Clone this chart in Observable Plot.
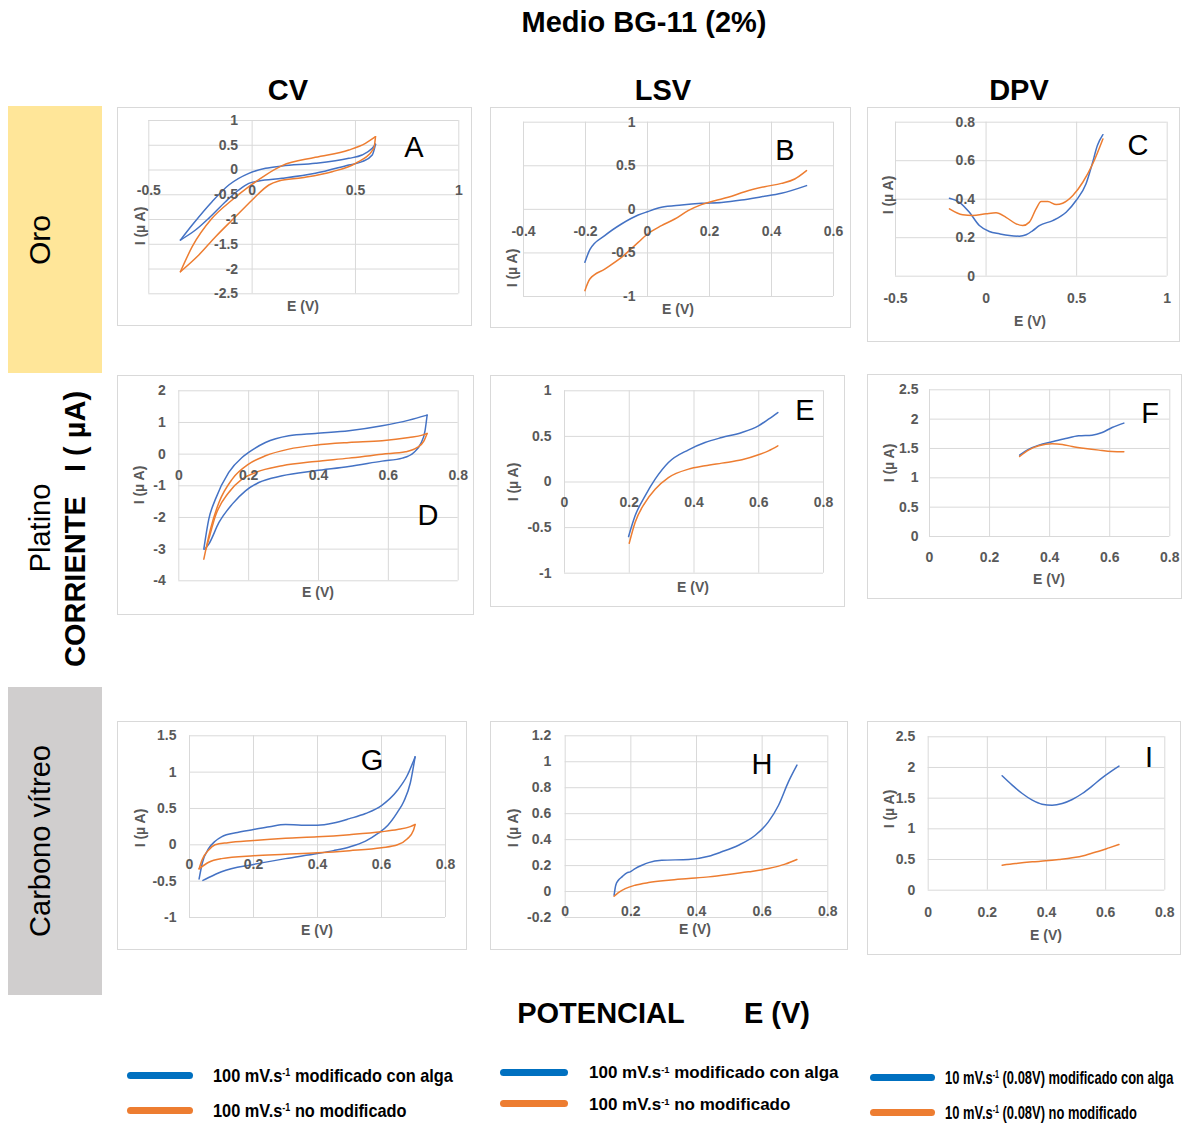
<!DOCTYPE html>
<html><head><meta charset="utf-8">
<script src="https://cdn.jsdelivr.net/npm/d3@7"></script>
<script src="https://cdn.jsdelivr.net/npm/@observablehq/plot@0.6"></script>
<style>
body{margin:0;background:#fff;}
#page{position:relative;width:1191px;height:1126px;font-family:"Liberation Sans",Arial,sans-serif;overflow:hidden;background:#fff;}
.t{position:absolute;transform:translate(-50%,-50%);white-space:nowrap;line-height:1;}
.r{position:absolute;transform:translate(-50%,-50%) rotate(-90deg);white-space:nowrap;line-height:1;}
.frame{position:absolute;border:1px solid #d9d9d9;box-sizing:border-box;}
.svgwrap{position:absolute;}
.hdr{font-weight:bold;font-size:29px;color:#000;}
.ax{font-weight:bold;font-size:14px;color:#595959;}
.let{font-size:29px;color:#000;}
.box{position:absolute;}
.lg{position:absolute;white-space:nowrap;line-height:1;transform-origin:left center;color:#000;}
.lg sup{font-size:0.55em;vertical-align:0.55em;}
.sw{position:absolute;height:7px;border-radius:4px;}
</style>
</head><body><div id="page"></div>
<script>
// ---------------- DATA ----------------
const A_xTicks=[-0.5,0,0.5,1];
const A_yTicks=[-2.5,-2,-1.5,-1,-0.5,0,0.5,1];
const A_blueUp=[[-0.347,-1.414],[-0.29,-1.111],[-0.194,-0.64],[-0.113,-0.303],[-0.016,-0.067],[0.065,0.034],[0.145,0.081],[0.306,0.135],[0.468,0.236],[0.532,0.303],[0.581,0.438],[0.597,0.519]];
const A_blueDown=[[0.597,0.519],[0.581,0.303],[0.532,0.168],[0.468,0.101],[0.306,-0.067],[0.145,-0.168],[0.032,-0.222],[-0.016,-0.269],[-0.065,-0.404],[-0.129,-0.64],[-0.21,-0.976],[-0.274,-1.212],[-0.347,-1.414]];
const A_orangeUp=[[-0.347,-2.054],[-0.29,-1.549],[-0.194,-0.976],[-0.097,-0.606],[-0.016,-0.337],[0.065,-0.101],[0.145,0.088],[0.306,0.256],[0.468,0.404],[0.548,0.539],[0.597,0.673]];
const A_orangeDown=[[0.597,0.673],[0.589,0.438],[0.5,0.135],[0.387,-0.034],[0.242,-0.155],[0.129,-0.222],[0.081,-0.303],[0.016,-0.539],[-0.016,-0.673],[-0.097,-1.01],[-0.177,-1.347],[-0.258,-1.717],[-0.347,-2.054]];

const B_xTicks=[-0.4,-0.2,0,0.2,0.4,0.6];
const B_yTicks=[-1,-0.5,0,0.5,1];
const B_blue=[[-0.202,-0.608],[-0.186,-0.463],[-0.138,-0.302],[-0.084,-0.168],[-0.03,-0.065],[0,-0.027],[0.045,0.023],[0.11,0.05],[0.174,0.069],[0.239,0.08],[0.303,0.107],[0.368,0.145],[0.432,0.184],[0.513,0.272]];
const B_orange=[[-0.202,-0.933],[-0.186,-0.799],[-0.138,-0.685],[-0.084,-0.551],[-0.03,-0.379],[0,-0.283],[0.045,-0.187],[0.088,-0.111],[0.131,-0.015],[0.174,0.054],[0.217,0.099],[0.26,0.138],[0.314,0.203],[0.378,0.26],[0.432,0.298],[0.475,0.348],[0.513,0.444]];

const C_xTicks=[-0.5,0,0.5,1];
const C_yTicks=[0,0.2,0.4,0.6,0.8];
const C_blue=[[-0.202,0.405],[-0.147,0.384],[-0.092,0.332],[-0.037,0.263],[0.018,0.232],[0.074,0.22],[0.129,0.211],[0.184,0.208],[0.221,0.215],[0.258,0.237],[0.294,0.263],[0.368,0.289],[0.442,0.332],[0.497,0.393],[0.552,0.48],[0.585,0.58],[0.615,0.68],[0.645,0.735]];
const C_orange=[[-0.202,0.35],[-0.129,0.319],[-0.074,0.315],[0,0.324],[0.055,0.329],[0.11,0.306],[0.166,0.272],[0.202,0.263],[0.239,0.281],[0.276,0.35],[0.304,0.388],[0.341,0.388],[0.387,0.372],[0.423,0.379],[0.479,0.419],[0.534,0.488],[0.589,0.584],[0.645,0.713]];

const D_xTicks=[0,0.2,0.4,0.6,0.8];
const D_yTicks=[-4,-3,-2,-1,0,1,2];
const D_blueUp=[[0.0716,-3.0],[0.0859,-2.053],[0.105,-1.421],[0.143,-0.579],[0.181,-0.105],[0.2,0.053],[0.248,0.368],[0.315,0.579],[0.391,0.653],[0.487,0.737],[0.582,0.895],[0.659,1.074],[0.711,1.232]];
const D_blueDown=[[0.711,1.232],[0.705,0.737],[0.692,0.316],[0.673,0.053],[0.64,-0.126],[0.582,-0.221],[0.487,-0.389],[0.391,-0.526],[0.296,-0.684],[0.229,-0.895],[0.191,-1.158],[0.153,-1.579],[0.115,-2.158],[0.0859,-2.842],[0.0745,-3.0]];
const D_orangeUp=[[0.0716,-3.316],[0.0907,-2.368],[0.115,-1.526],[0.153,-0.789],[0.2,-0.316],[0.248,-0.053],[0.315,0.158],[0.391,0.284],[0.487,0.368],[0.582,0.421],[0.659,0.526],[0.697,0.6],[0.711,0.653]];
const D_orangeDown=[[0.711,0.653],[0.702,0.421],[0.683,0.211],[0.649,0.074],[0.582,0.0],[0.487,-0.126],[0.391,-0.232],[0.296,-0.368],[0.22,-0.579],[0.181,-0.789],[0.143,-1.211],[0.105,-1.947],[0.0859,-2.684],[0.078,-3.0]];

const E_xTicks=[0,0.2,0.4,0.6,0.8];
const E_yTicks=[-1,-0.5,0,0.5,1];
const E_blue=[[0.198,-0.598],[0.218,-0.371],[0.249,-0.152],[0.28,0.031],[0.321,0.214],[0.383,0.353],[0.434,0.433],[0.486,0.488],[0.548,0.543],[0.599,0.616],[0.63,0.689],[0.659,0.762]];
const E_orange=[[0.2,-0.671],[0.218,-0.444],[0.249,-0.225],[0.28,-0.079],[0.321,0.049],[0.383,0.141],[0.434,0.177],[0.486,0.207],[0.548,0.243],[0.599,0.298],[0.63,0.342],[0.659,0.397]];

const F_xTicks=[0,0.2,0.4,0.6,0.8];
const F_yTicks=[0,0.5,1,1.5,2,2.5];
const F_blue=[[0.3,1.386],[0.331,1.489],[0.364,1.557],[0.408,1.614],[0.453,1.67],[0.497,1.716],[0.541,1.727],[0.575,1.773],[0.608,1.858],[0.647,1.932]];
const F_orange=[[0.3,1.364],[0.331,1.477],[0.364,1.545],[0.408,1.58],[0.442,1.568],[0.475,1.534],[0.519,1.5],[0.564,1.472],[0.608,1.449],[0.647,1.443]];

const G_xTicks=[0,0.2,0.4,0.6,0.8];
const G_yTicks=[-1,-0.5,0,0.5,1,1.5];
const G_blueUp=[[0.03,-0.47],[0.04,-0.25],[0.06,-0.05],[0.08,0.05],[0.1,0.11],[0.15,0.17],[0.2,0.21],[0.25,0.25],[0.3,0.28],[0.35,0.27],[0.4,0.27],[0.45,0.3],[0.5,0.36],[0.55,0.43],[0.6,0.54],[0.65,0.75],[0.68,0.95],[0.705,1.21]];
const G_blueDown=[[0.705,1.21],[0.69,0.85],[0.67,0.6],[0.65,0.45],[0.62,0.27],[0.59,0.16],[0.55,0.05],[0.5,-0.03],[0.45,-0.08],[0.4,-0.12],[0.3,-0.19],[0.2,-0.27],[0.1,-0.37],[0.06,-0.45],[0.042,-0.49]];
const G_orangeUp=[[0.03,-0.33],[0.04,-0.2],[0.06,-0.07],[0.08,0.0],[0.12,0.03],[0.2,0.06],[0.3,0.09],[0.4,0.11],[0.5,0.14],[0.6,0.18],[0.65,0.21],[0.69,0.25],[0.705,0.28]];
const G_orangeDown=[[0.705,0.28],[0.7,0.2],[0.68,0.08],[0.65,0.0],[0.6,-0.04],[0.5,-0.08],[0.4,-0.11],[0.3,-0.13],[0.2,-0.15],[0.1,-0.19],[0.06,-0.24],[0.03,-0.33]];

const H_xTicks=[0,0.2,0.4,0.6,0.8];
const H_yTicks=[-0.2,0,0.2,0.4,0.6,0.8,1,1.2];
const H_blue=[[0.149,-0.028],[0.154,0.049],[0.162,0.087],[0.173,0.113],[0.188,0.144],[0.198,0.152],[0.213,0.177],[0.234,0.203],[0.254,0.223],[0.294,0.241],[0.376,0.247],[0.437,0.272],[0.477,0.306],[0.528,0.357],[0.579,0.434],[0.619,0.537],[0.65,0.665],[0.68,0.845],[0.706,0.974]];
const H_orange=[[0.149,-0.036],[0.162,-0.008],[0.183,0.023],[0.213,0.049],[0.254,0.069],[0.315,0.087],[0.376,0.1],[0.437,0.113],[0.497,0.131],[0.558,0.152],[0.619,0.177],[0.67,0.211],[0.706,0.247]];

const I_xTicks=[0,0.2,0.4,0.6,0.8];
const I_yTicks=[0,0.5,1,1.5,2,2.5];
const I_blue=[[0.25,1.864],[0.284,1.712],[0.318,1.576],[0.352,1.467],[0.385,1.402],[0.419,1.386],[0.453,1.413],[0.487,1.478],[0.521,1.576],[0.554,1.696],[0.588,1.832],[0.616,1.929],[0.645,2.022]];
const I_orange=[[0.25,0.408],[0.295,0.435],[0.352,0.462],[0.397,0.478],[0.442,0.5],[0.487,0.527],[0.532,0.571],[0.577,0.636],[0.611,0.69],[0.645,0.745]];

const legend1=["100 mV.s","-1"," modificado con alga","100 mV.s","-1"," no modificado"];
const legend3=["10 mV.s","-1"," (0.08V) modificado con alga","10 mV.s","-1"," (0.08V) no modificado"];

// ---------------- LAYOUT ----------------
const BLUE="#4472C4", ORANGE="#ED7D31";
const page=document.getElementById("page");
function txt(cls,html,x,y,extra){const d=document.createElement("div");d.className=cls;d.innerHTML=html;d.style.left=x+"px";d.style.top=y+"px";if(extra)Object.assign(d.style,extra);page.appendChild(d);return d;}
function box(x0,y0,x1,y1,color){const d=document.createElement("div");d.className="box";Object.assign(d.style,{left:x0+"px",top:y0+"px",width:(x1-x0)+"px",height:(y1-y0)+"px",background:color});page.appendChild(d);}

const panels=[
 {L:"A",frame:[117,107,472,326],area:[148.3,458.3,120,293.3],xd:[-0.5,1],yd:[-2.5,1],xt:A_xTicks,yt:A_yTicks,xAt:0,yAt:0,xDy:21,yDx:14,
  s:[[A_blueUp,BLUE],[A_blueDown,BLUE],[A_orangeUp,ORANGE],[A_orangeDown,ORANGE]],e:[303,306],i:[140,226],l:[414,147]},
 {L:"B",frame:[490,107,851,328],area:[523,833,121.7,296],xd:[-0.4,0.6],yd:[-1,1],xt:B_xTicks,yt:B_yTicks,xAt:0,yAt:0,xDy:22,yDx:12,
  s:[[B_blue,BLUE],[B_orange,ORANGE]],e:[678,309],i:[512,268],l:[785,150]},
 {L:"C",frame:[867,107,1180,342],area:[895,1166.7,121.7,275.7],xd:[-0.5,1],yd:[0,0.8],xt:C_xTicks,yt:C_yTicks,xAt:0,yAt:0,xDy:22,yDx:11,
  s:[[C_blue,BLUE],[C_orange,ORANGE]],e:[1030,321],i:[888,195],l:[1138,145]},
 {L:"D",frame:[117,375,474,615],area:[178.3,457.7,390.3,580.3],xd:[0,0.8],yd:[-4,2],xt:D_xTicks,yt:D_yTicks,xAt:0,yAt:0,xDy:21,yDx:13,
  s:[[D_blueUp,BLUE],[D_blueDown,BLUE],[D_orangeUp,ORANGE],[D_orangeDown,ORANGE]],e:[318,592],i:[139,485],l:[428,515]},
 {L:"E",frame:[490,375,845,607],area:[564,823,390.3,572.7],xd:[0,0.8],yd:[-1,1],xt:E_xTicks,yt:E_yTicks,xAt:0,yAt:0,xDy:21,yDx:13,
  s:[[E_blue,BLUE],[E_orange,ORANGE]],e:[693,587],i:[513,482],l:[805,410]},
 {L:"F",frame:[867,374,1182,599],area:[929,1169.3,389.3,536],xd:[0,0.8],yd:[0,2.5],xt:F_xTicks,yt:F_yTicks,xAt:0,yAt:0,xDy:21,yDx:11,
  s:[[F_blue,BLUE],[F_orange,ORANGE]],e:[1049,579],i:[889,463],l:[1150,413]},
 {L:"G",frame:[117,721,467,950],area:[189,445,735.3,917],xd:[0,0.8],yd:[-1,1.5],xt:G_xTicks,yt:G_yTicks,xAt:0,yAt:0,xDy:20,yDx:13,
  s:[[G_blueUp,BLUE],[G_blueDown,BLUE],[G_orangeUp,ORANGE],[G_orangeDown,ORANGE]],e:[317,930],i:[140,828],l:[372,760]},
 {L:"H",frame:[490,721,848,950],area:[564.7,827.3,735.3,917],xd:[0,0.8],yd:[-0.2,1.2],xt:H_xTicks,yt:H_yTicks,xAt:0,yAt:0,xDy:20,yDx:14,
  s:[[H_blue,BLUE],[H_orange,ORANGE]],e:[695,929],i:[513,828],l:[762,764]},
 {L:"I",frame:[867,721,1181,955],area:[927.7,1164.3,736.3,889.7],xd:[0,0.8],yd:[0,2.5],xt:I_xTicks,yt:I_yTicks,xAt:0,yAt:0,xDy:22,yDx:13,
  s:[[I_blue,BLUE],[I_orange,ORANGE]],e:[1046,935],i:[889,809],l:[1149,757]}
];

const tickStyle={fill:"#595959",fontWeight:"bold",fontSize:14,fontFamily:"Liberation Sans, Arial, sans-serif"};
for(const p of panels){
  const [fl,ft,fr,fb]=p.frame, [x0,x1,y0,y1]=p.area;
  const fr_=document.createElement("div");fr_.className="frame";
  Object.assign(fr_.style,{left:fl+"px",top:ft+"px",width:(fr-fl)+"px",height:(fb-ft)+"px"});
  page.appendChild(fr_);
  const xl=p.xt.map(v=>({x:v,y:p.xAt,t:String(v)}));
  const yl=p.yt.map(v=>({x:p.yAt,y:v,t:String(v)}));
  const marks=[
    Plot.ruleY(p.yt,{y:d=>d,stroke:"#d9d9d9",strokeWidth:1}),
    Plot.ruleX(p.xt,{x:d=>d,stroke:"#d9d9d9",strokeWidth:1}),
    ...p.s.map(([data,c])=>Plot.line(data,{x:d=>d[0],y:d=>d[1],stroke:c,strokeWidth:1.5,curve:"monotone-x",strokeLinejoin:"round"})),
    Plot.text(yl,{x:"x",y:"y",text:"t",textAnchor:"end",dx:-p.yDx,...tickStyle}),
    Plot.text(xl,{x:"x",y:"y",text:"t",dy:p.xDy,...tickStyle})
  ];
  const svg=Plot.plot({width:fr-fl,height:fb-ft,marginLeft:x0-fl,marginRight:fr-x1,marginTop:y0-ft,marginBottom:fb-y1,
    x:{domain:p.xd,axis:null},y:{domain:p.yd,axis:null},marks,style:{background:"transparent",overflow:"visible"}});
  const w=document.createElement("div");w.className="svgwrap";w.style.left=fl+"px";w.style.top=ft+"px";w.appendChild(svg);page.appendChild(w);
  txt("t ax","E (V)",p.e[0],p.e[1]);
  txt("r ax","I (µ A)",p.i[0],p.i[1]);
  txt("t let",p.L,p.l[0],p.l[1]);
}

// headers
txt("t hdr","Medio BG-11 (2%)",644,22);
txt("t hdr","CV",288,90);
txt("t hdr","LSV",663,90);
txt("t hdr","DPV",1019,90);
txt("t hdr","POTENCIAL",601,1013);
txt("t hdr","E (V)",777,1013);
// row labels
box(8,106,102,373,"#FFE699");
box(8,687,102,995,"#D0CECE");
txt("r","Oro",40,240,{fontSize:"30px"});
txt("r","Platino",40,528,{fontSize:"29px"});
txt("r","CORRIENTE&nbsp;&nbsp;&nbsp;I ( µA)",75,529,{fontSize:"29px",fontWeight:"bold"});
txt("r","Carbono vítreo",40,841,{fontSize:"29px"});

// legends
function sw(x0,x1,y,c){const d=document.createElement("div");d.className="sw";Object.assign(d.style,{left:x0+"px",top:(y-3.5)+"px",width:(x1-x0)+"px",background:c});page.appendChild(d);}
function lg(parts,x,y,size,scale,weight){const d=document.createElement("div");d.className="lg";
  d.innerHTML=parts[0]+"<sup>"+parts[1]+"</sup>"+parts[2];
  Object.assign(d.style,{left:x+"px",top:(y-size/2)+"px",fontSize:size+"px",fontWeight:weight,transform:"scaleX("+scale+")"});page.appendChild(d);}
const LB="#0070C0", LO="#ED7D31";
sw(127,193,1075,LB); lg(legend1.slice(0,3),213,1075,19,0.86,"bold");
sw(127,193,1110,LO); lg(legend1.slice(3,6),213,1110,19,0.86,"bold");
sw(500,568,1072,LB); lg(legend1.slice(0,3),589,1072,17,1,"bold");
sw(500,568,1103,LO); lg(legend1.slice(3,6),589,1104,17,1,"bold");
sw(870,935,1077,LB); lg(legend3.slice(0,3),945,1077,19,0.68,"bold");
sw(870,935,1112,LO); lg(legend3.slice(3,6),945,1112,19,0.68,"bold");
</script>
</body></html>
